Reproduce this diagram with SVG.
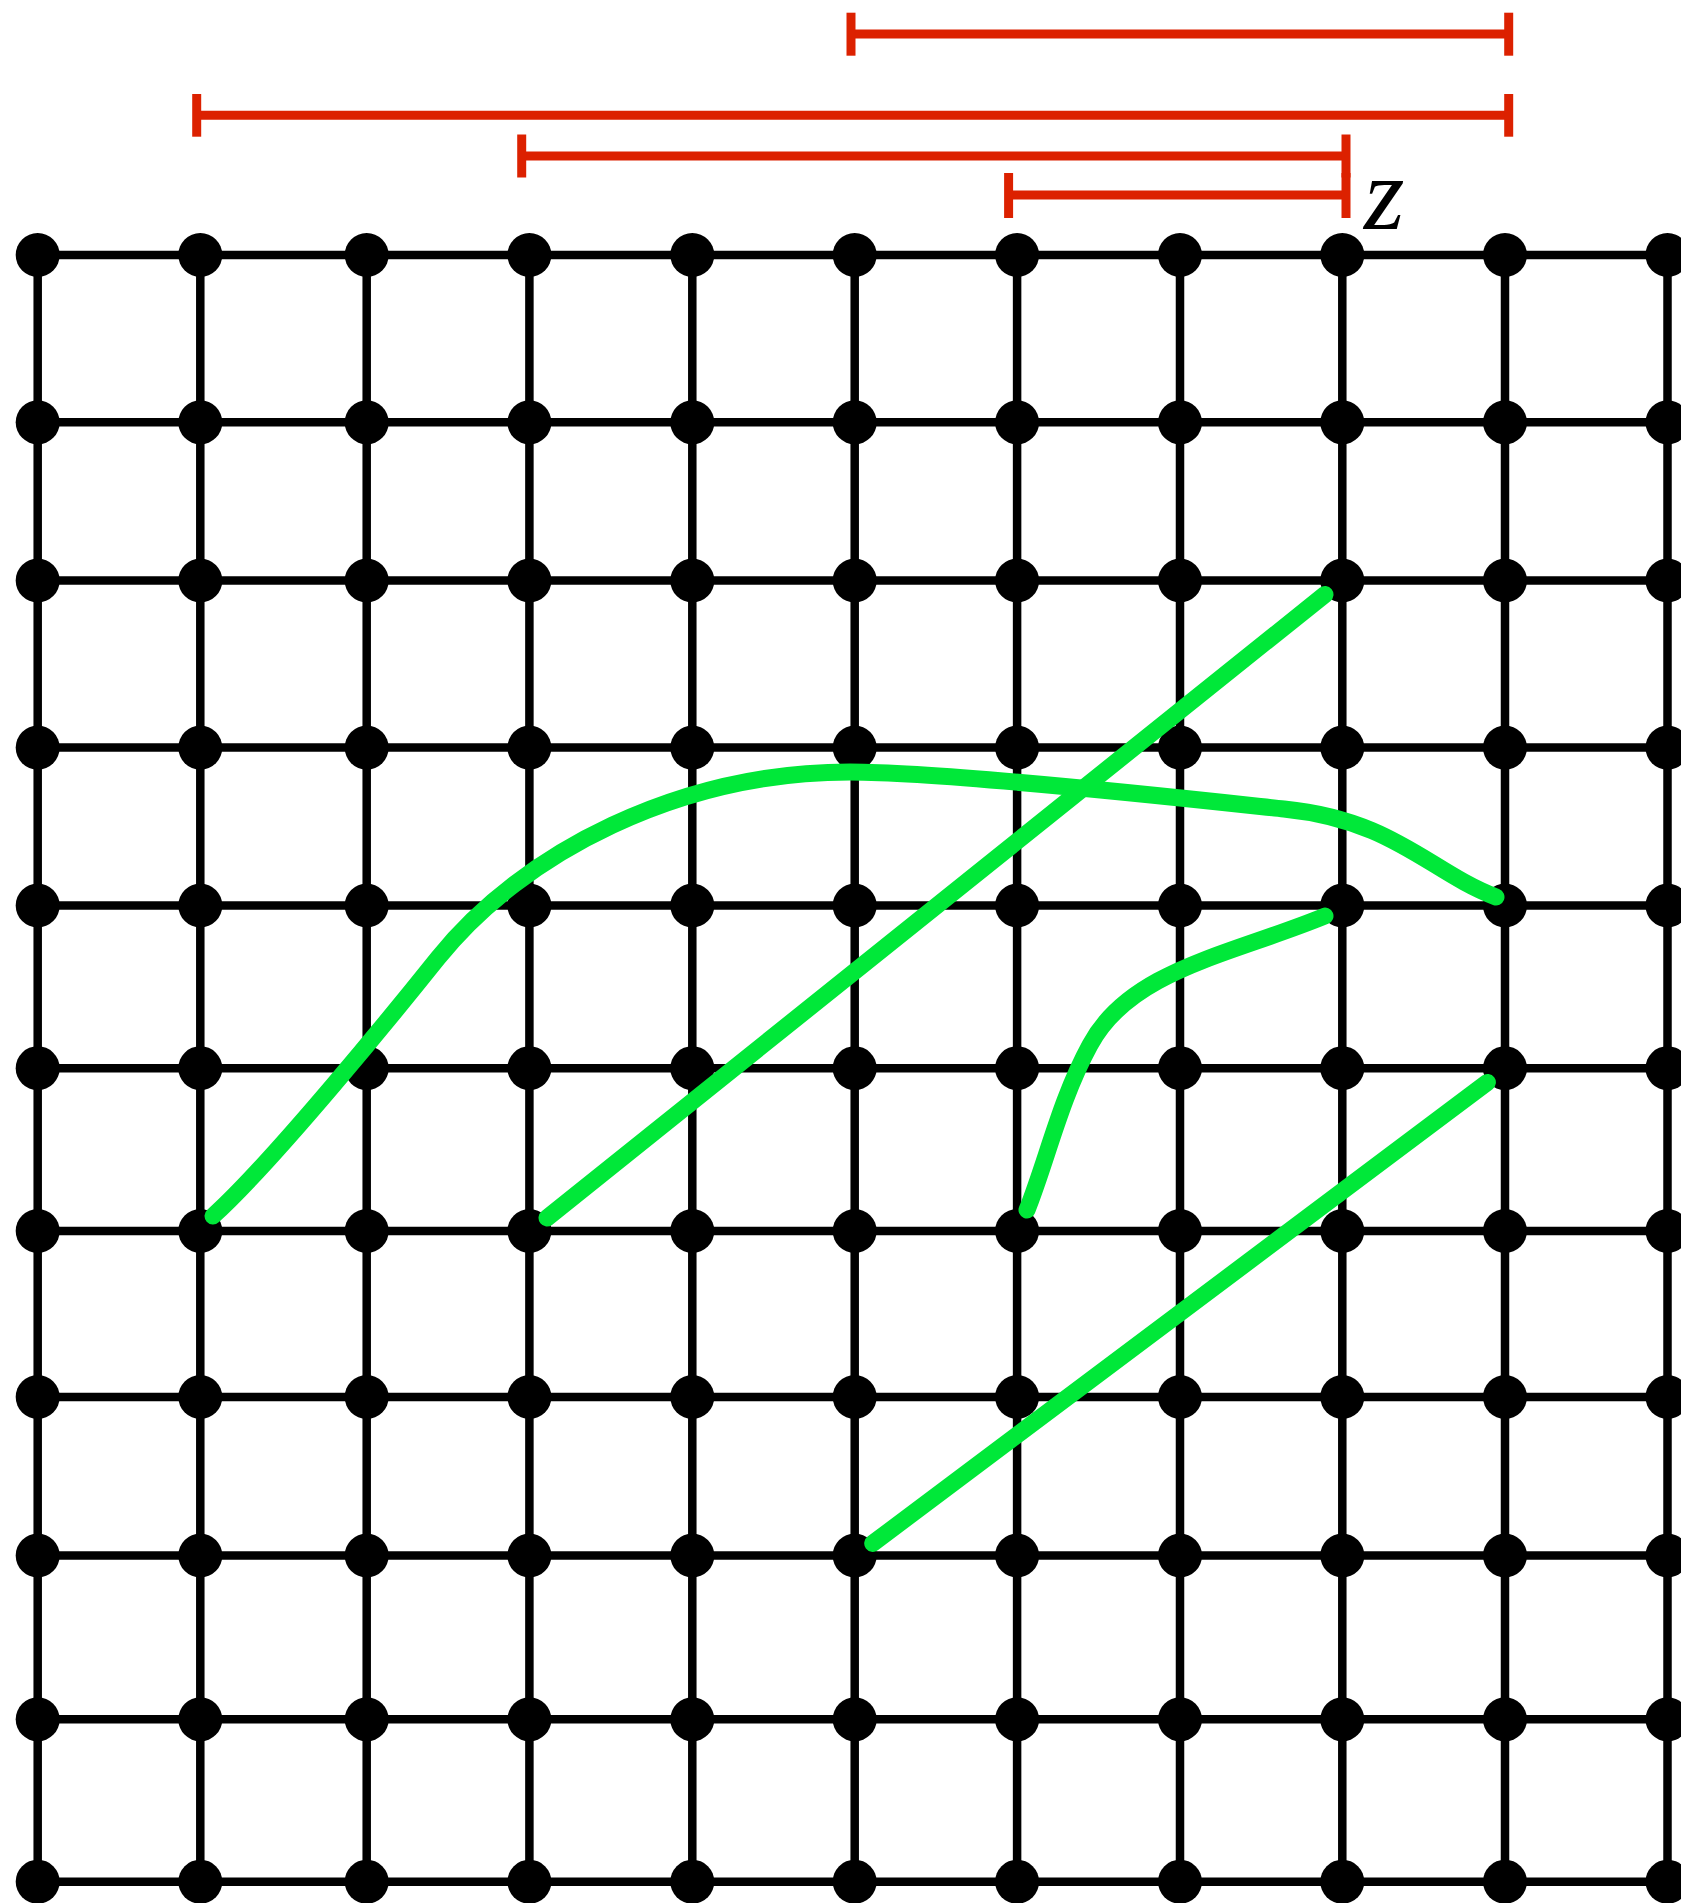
<svg xmlns="http://www.w3.org/2000/svg" width="1681" height="1903" viewBox="0 0 1681 1903">
<style>
.e{stroke:#000;stroke-width:8.5;fill:none}
.n{fill:#000}
.g{stroke:#00e839;stroke-width:17;fill:none;stroke-linecap:round;stroke-linejoin:round}
.r{stroke:#dc2100;stroke-width:9;fill:none}
.lbl{font-family:"Liberation Serif",serif;font-style:italic;font-size:104px;fill:#000}
</style>
<rect width="1681" height="1903" fill="#fff"/>
<g id="connectors">
<g id="grid-edges">
<line class="e" x1="37.7" y1="255" x2="1667.5" y2="255"/>
<line class="e" x1="37.7" y1="422.3" x2="1667.5" y2="422.3"/>
<line class="e" x1="37.7" y1="580.5" x2="1667.5" y2="580.5"/>
<line class="e" x1="37.7" y1="747.6" x2="1667.5" y2="747.6"/>
<line class="e" x1="37.7" y1="905.5" x2="1667.5" y2="905.5"/>
<line class="e" x1="37.7" y1="1068.2" x2="1667.5" y2="1068.2"/>
<line class="e" x1="37.7" y1="1231" x2="1667.5" y2="1231"/>
<line class="e" x1="37.7" y1="1397" x2="1667.5" y2="1397"/>
<line class="e" x1="37.7" y1="1555.5" x2="1667.5" y2="1555.5"/>
<line class="e" x1="37.7" y1="1719.3" x2="1667.5" y2="1719.3"/>
<line class="e" x1="37.7" y1="1881.7" x2="1667.5" y2="1881.7"/>
<line class="e" x1="37.7" y1="255" x2="37.7" y2="1881.7"/>
<line class="e" x1="200.3" y1="255" x2="200.3" y2="1881.7"/>
<line class="e" x1="366.7" y1="255" x2="366.7" y2="1881.7"/>
<line class="e" x1="529.4" y1="255" x2="529.4" y2="1881.7"/>
<line class="e" x1="692.3" y1="255" x2="692.3" y2="1881.7"/>
<line class="e" x1="854.7" y1="255" x2="854.7" y2="1881.7"/>
<line class="e" x1="1017.1" y1="255" x2="1017.1" y2="1881.7"/>
<line class="e" x1="1180" y1="255" x2="1180" y2="1881.7"/>
<line class="e" x1="1342.3" y1="255" x2="1342.3" y2="1881.7"/>
<line class="e" x1="1505" y1="255" x2="1505" y2="1881.7"/>
<line class="e" x1="1667.5" y1="255" x2="1667.5" y2="1881.7"/>
</g>
</g>
<g id="nodes">
<g id="n0_0"><circle class="n" cx="37.7" cy="255" r="22"/></g><g id="n0_1"><circle class="n" cx="200.3" cy="255" r="22"/></g><g id="n0_2"><circle class="n" cx="366.7" cy="255" r="22"/></g><g id="n0_3"><circle class="n" cx="529.4" cy="255" r="22"/></g><g id="n0_4"><circle class="n" cx="692.3" cy="255" r="22"/></g><g id="n0_5"><circle class="n" cx="854.7" cy="255" r="22"/></g><g id="n0_6"><circle class="n" cx="1017.1" cy="255" r="22"/></g><g id="n0_7"><circle class="n" cx="1180" cy="255" r="22"/></g><g id="n0_8"><circle class="n" cx="1342.3" cy="255" r="22"/></g><g id="n0_9"><circle class="n" cx="1505" cy="255" r="22"/></g><g id="n0_10"><circle class="n" cx="1667.5" cy="255" r="22"/></g>
<g id="n1_0"><circle class="n" cx="37.7" cy="422.3" r="22"/></g><g id="n1_1"><circle class="n" cx="200.3" cy="422.3" r="22"/></g><g id="n1_2"><circle class="n" cx="366.7" cy="422.3" r="22"/></g><g id="n1_3"><circle class="n" cx="529.4" cy="422.3" r="22"/></g><g id="n1_4"><circle class="n" cx="692.3" cy="422.3" r="22"/></g><g id="n1_5"><circle class="n" cx="854.7" cy="422.3" r="22"/></g><g id="n1_6"><circle class="n" cx="1017.1" cy="422.3" r="22"/></g><g id="n1_7"><circle class="n" cx="1180" cy="422.3" r="22"/></g><g id="n1_8"><circle class="n" cx="1342.3" cy="422.3" r="22"/></g><g id="n1_9"><circle class="n" cx="1505" cy="422.3" r="22"/></g><g id="n1_10"><circle class="n" cx="1667.5" cy="422.3" r="22"/></g>
<g id="n2_0"><circle class="n" cx="37.7" cy="580.5" r="22"/></g><g id="n2_1"><circle class="n" cx="200.3" cy="580.5" r="22"/></g><g id="n2_2"><circle class="n" cx="366.7" cy="580.5" r="22"/></g><g id="n2_3"><circle class="n" cx="529.4" cy="580.5" r="22"/></g><g id="n2_4"><circle class="n" cx="692.3" cy="580.5" r="22"/></g><g id="n2_5"><circle class="n" cx="854.7" cy="580.5" r="22"/></g><g id="n2_6"><circle class="n" cx="1017.1" cy="580.5" r="22"/></g><g id="n2_7"><circle class="n" cx="1180" cy="580.5" r="22"/></g><g id="n2_8"><circle class="n" cx="1342.3" cy="580.5" r="22"/></g><g id="n2_9"><circle class="n" cx="1505" cy="580.5" r="22"/></g><g id="n2_10"><circle class="n" cx="1667.5" cy="580.5" r="22"/></g>
<g id="n3_0"><circle class="n" cx="37.7" cy="747.6" r="22"/></g><g id="n3_1"><circle class="n" cx="200.3" cy="747.6" r="22"/></g><g id="n3_2"><circle class="n" cx="366.7" cy="747.6" r="22"/></g><g id="n3_3"><circle class="n" cx="529.4" cy="747.6" r="22"/></g><g id="n3_4"><circle class="n" cx="692.3" cy="747.6" r="22"/></g><g id="n3_5"><circle class="n" cx="854.7" cy="747.6" r="22"/></g><g id="n3_6"><circle class="n" cx="1017.1" cy="747.6" r="22"/></g><g id="n3_7"><circle class="n" cx="1180" cy="747.6" r="22"/></g><g id="n3_8"><circle class="n" cx="1342.3" cy="747.6" r="22"/></g><g id="n3_9"><circle class="n" cx="1505" cy="747.6" r="22"/></g><g id="n3_10"><circle class="n" cx="1667.5" cy="747.6" r="22"/></g>
<g id="n4_0"><circle class="n" cx="37.7" cy="905.5" r="22"/></g><g id="n4_1"><circle class="n" cx="200.3" cy="905.5" r="22"/></g><g id="n4_2"><circle class="n" cx="366.7" cy="905.5" r="22"/></g><g id="n4_3"><circle class="n" cx="529.4" cy="905.5" r="22"/></g><g id="n4_4"><circle class="n" cx="692.3" cy="905.5" r="22"/></g><g id="n4_5"><circle class="n" cx="854.7" cy="905.5" r="22"/></g><g id="n4_6"><circle class="n" cx="1017.1" cy="905.5" r="22"/></g><g id="n4_7"><circle class="n" cx="1180" cy="905.5" r="22"/></g><g id="n4_8"><circle class="n" cx="1342.3" cy="905.5" r="22"/></g><g id="n4_9"><circle class="n" cx="1505" cy="905.5" r="22"/></g><g id="n4_10"><circle class="n" cx="1667.5" cy="905.5" r="22"/></g>
<g id="n5_0"><circle class="n" cx="37.7" cy="1068.2" r="22"/></g><g id="n5_1"><circle class="n" cx="200.3" cy="1068.2" r="22"/></g><g id="n5_2"><circle class="n" cx="366.7" cy="1068.2" r="22"/></g><g id="n5_3"><circle class="n" cx="529.4" cy="1068.2" r="22"/></g><g id="n5_4"><circle class="n" cx="692.3" cy="1068.2" r="22"/></g><g id="n5_5"><circle class="n" cx="854.7" cy="1068.2" r="22"/></g><g id="n5_6"><circle class="n" cx="1017.1" cy="1068.2" r="22"/></g><g id="n5_7"><circle class="n" cx="1180" cy="1068.2" r="22"/></g><g id="n5_8"><circle class="n" cx="1342.3" cy="1068.2" r="22"/></g><g id="n5_9"><circle class="n" cx="1505" cy="1068.2" r="22"/></g><g id="n5_10"><circle class="n" cx="1667.5" cy="1068.2" r="22"/></g>
<g id="n6_0"><circle class="n" cx="37.7" cy="1231" r="22"/></g><g id="n6_1"><circle class="n" cx="200.3" cy="1231" r="22"/></g><g id="n6_2"><circle class="n" cx="366.7" cy="1231" r="22"/></g><g id="n6_3"><circle class="n" cx="529.4" cy="1231" r="22"/></g><g id="n6_4"><circle class="n" cx="692.3" cy="1231" r="22"/></g><g id="n6_5"><circle class="n" cx="854.7" cy="1231" r="22"/></g><g id="n6_6"><circle class="n" cx="1017.1" cy="1231" r="22"/></g><g id="n6_7"><circle class="n" cx="1180" cy="1231" r="22"/></g><g id="n6_8"><circle class="n" cx="1342.3" cy="1231" r="22"/></g><g id="n6_9"><circle class="n" cx="1505" cy="1231" r="22"/></g><g id="n6_10"><circle class="n" cx="1667.5" cy="1231" r="22"/></g>
<g id="n7_0"><circle class="n" cx="37.7" cy="1397" r="22"/></g><g id="n7_1"><circle class="n" cx="200.3" cy="1397" r="22"/></g><g id="n7_2"><circle class="n" cx="366.7" cy="1397" r="22"/></g><g id="n7_3"><circle class="n" cx="529.4" cy="1397" r="22"/></g><g id="n7_4"><circle class="n" cx="692.3" cy="1397" r="22"/></g><g id="n7_5"><circle class="n" cx="854.7" cy="1397" r="22"/></g><g id="n7_6"><circle class="n" cx="1017.1" cy="1397" r="22"/></g><g id="n7_7"><circle class="n" cx="1180" cy="1397" r="22"/></g><g id="n7_8"><circle class="n" cx="1342.3" cy="1397" r="22"/></g><g id="n7_9"><circle class="n" cx="1505" cy="1397" r="22"/></g><g id="n7_10"><circle class="n" cx="1667.5" cy="1397" r="22"/></g>
<g id="n8_0"><circle class="n" cx="37.7" cy="1555.5" r="22"/></g><g id="n8_1"><circle class="n" cx="200.3" cy="1555.5" r="22"/></g><g id="n8_2"><circle class="n" cx="366.7" cy="1555.5" r="22"/></g><g id="n8_3"><circle class="n" cx="529.4" cy="1555.5" r="22"/></g><g id="n8_4"><circle class="n" cx="692.3" cy="1555.5" r="22"/></g><g id="n8_5"><circle class="n" cx="854.7" cy="1555.5" r="22"/></g><g id="n8_6"><circle class="n" cx="1017.1" cy="1555.5" r="22"/></g><g id="n8_7"><circle class="n" cx="1180" cy="1555.5" r="22"/></g><g id="n8_8"><circle class="n" cx="1342.3" cy="1555.5" r="22"/></g><g id="n8_9"><circle class="n" cx="1505" cy="1555.5" r="22"/></g><g id="n8_10"><circle class="n" cx="1667.5" cy="1555.5" r="22"/></g>
<g id="n9_0"><circle class="n" cx="37.7" cy="1719.3" r="22"/></g><g id="n9_1"><circle class="n" cx="200.3" cy="1719.3" r="22"/></g><g id="n9_2"><circle class="n" cx="366.7" cy="1719.3" r="22"/></g><g id="n9_3"><circle class="n" cx="529.4" cy="1719.3" r="22"/></g><g id="n9_4"><circle class="n" cx="692.3" cy="1719.3" r="22"/></g><g id="n9_5"><circle class="n" cx="854.7" cy="1719.3" r="22"/></g><g id="n9_6"><circle class="n" cx="1017.1" cy="1719.3" r="22"/></g><g id="n9_7"><circle class="n" cx="1180" cy="1719.3" r="22"/></g><g id="n9_8"><circle class="n" cx="1342.3" cy="1719.3" r="22"/></g><g id="n9_9"><circle class="n" cx="1505" cy="1719.3" r="22"/></g><g id="n9_10"><circle class="n" cx="1667.5" cy="1719.3" r="22"/></g>
<g id="n10_0"><circle class="n" cx="37.7" cy="1881.7" r="22"/></g><g id="n10_1"><circle class="n" cx="200.3" cy="1881.7" r="22"/></g><g id="n10_2"><circle class="n" cx="366.7" cy="1881.7" r="22"/></g><g id="n10_3"><circle class="n" cx="529.4" cy="1881.7" r="22"/></g><g id="n10_4"><circle class="n" cx="692.3" cy="1881.7" r="22"/></g><g id="n10_5"><circle class="n" cx="854.7" cy="1881.7" r="22"/></g><g id="n10_6"><circle class="n" cx="1017.1" cy="1881.7" r="22"/></g><g id="n10_7"><circle class="n" cx="1180" cy="1881.7" r="22"/></g><g id="n10_8"><circle class="n" cx="1342.3" cy="1881.7" r="22"/></g><g id="n10_9"><circle class="n" cx="1505" cy="1881.7" r="22"/></g><g id="n10_10"><circle class="n" cx="1667.5" cy="1881.7" r="22"/></g>
</g>
<g id="paths">
<path class="g" d="M213,1216 C273,1162 398,1008 438,958 C523,852 680,772 850,772 C950,772 1200,800 1284,809 C1394,820 1430,872 1496,897"/>
<path class="g" d="M547,1218 L1325,594.5"/>
<path class="g" d="M1027,1210 C1047,1160 1060,1100 1090,1045 C1130,970 1230,955 1325,916"/>
<path class="g" d="M872.7,1543.4 L1487.4,1082.4"/>
</g>
<g id="intervals">
<line class="r" x1="851" y1="34" x2="1508.7" y2="34"/>
<line class="r" x1="851" y1="12.7" x2="851" y2="55.7"/>
<line class="r" x1="1508.7" y1="12.7" x2="1508.7" y2="55.7"/>
<line class="r" x1="196.7" y1="115.3" x2="1508.7" y2="115.3"/>
<line class="r" x1="196.7" y1="94" x2="196.7" y2="136.7"/>
<line class="r" x1="1508.7" y1="94" x2="1508.7" y2="136.7"/>
<line class="r" x1="521.7" y1="156" x2="1346" y2="156"/>
<line class="r" x1="521.7" y1="134.5" x2="521.7" y2="177.5"/>
<line class="r" x1="1346" y1="134.5" x2="1346" y2="177.5"/>
<line class="r" x1="1008.6" y1="195" x2="1346" y2="195"/>
<line class="r" x1="1008.6" y1="173" x2="1008.6" y2="218"/>
<line class="r" x1="1346" y1="173" x2="1346" y2="218"/>
<text class="lbl" x="1364" y="229">z</text>
</g>
</svg>
